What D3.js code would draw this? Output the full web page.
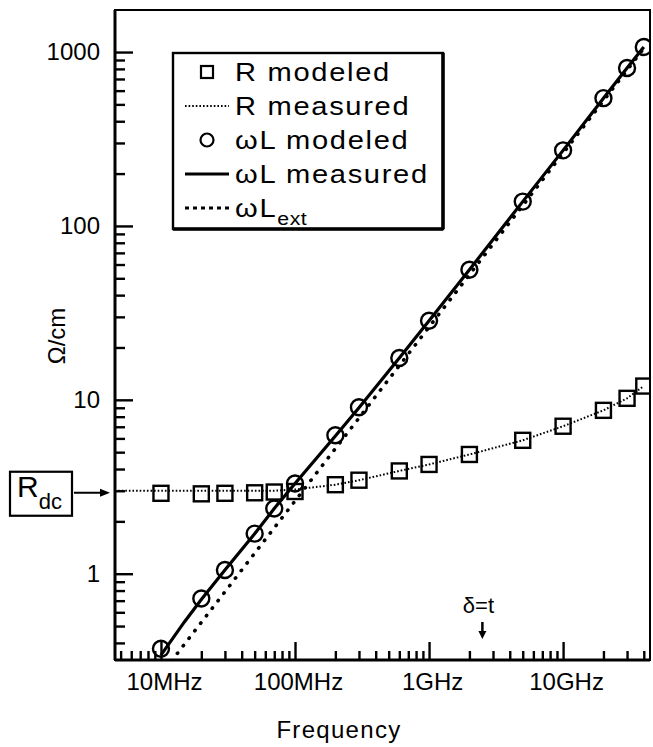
<!DOCTYPE html>
<html>
<head>
<meta charset="utf-8">
<script src="https://cdn.jsdelivr.net/npm/d3@7"></script>
<style>
  body { margin: 0; background: #fff; }
  svg { display: block; font-family: "Liberation Sans", Arial, sans-serif; }
</style>
</head>
<body>
<div id="chart"></div>
<script>
// frequencies of the modeled points (Hz)
const freqModeled = [1e7, 2e7, 3e7, 5e7, 7e7, 1e8, 2e8, 3e8, 6e8, 1e9, 2e9, 5e9, 1e10, 2e10, 3e10, 4e10];
const rModeled = [2.9, 2.88, 2.9, 2.92, 2.95, 2.97, 3.25, 3.45, 3.9, 4.25, 4.85, 5.85, 7.05, 8.7, 10.2, 12.0];
const wlModeled = [0.37, 0.72, 1.05, 1.7, 2.37, 3.3, 6.26, 9.07, 17.4, 28.5, 56, 138, 272, 543, 809, 1070];

// measured curves
const freqRMeas = [4.5e6, 1e7, 3e7, 7e7, 1e8, 2e8, 3e8, 6e8, 1e9, 2e9, 5e9, 1e10, 2e10, 3e10, 4e10];
const rMeas = [3.0, 3.0, 3.0, 3.0, 3.05, 3.25, 3.45, 3.9, 4.25, 4.85, 5.85, 7.05, 8.7, 10.2, 12.0];
const freqWLMeas = [1e7, 1.5e7, 2e7, 3e7, 5e7, 7e7, 1e8, 2e8, 3e8, 6e8, 1e9, 2e9, 5e9, 1e10, 2e10, 3e10, 4e10];
const wlMeas = [0.34, 0.53, 0.71, 1.05, 1.7, 2.37, 3.3, 6.2, 9.0, 17.4, 28.5, 56, 138, 272, 543, 809, 1070];
const freqExt = [1.2e7, 1e8, 1e9, 1e10, 4e10];
const wlExt = [0.315, 2.62, 26.2, 262, 1050];

const rdc = 3.0;
const fSkin = 2.5e9; // delta = t

const xTickVals = [1e7, 1e8, 1e9, 1e10];
const xTickLabels = ['10MHz', '100MHz', '1GHz', '10GHz'];
const yTickVals = [1, 10, 100, 1000];
const yTickLabels = ['1', '10', '100', '1000'];

const legendItems = [
  { label: 'R modeled', sub: '', type: 'square' },
  { label: 'R measured', sub: '', type: 'dot' },
  { label: '\u03c9L modeled', sub: '', type: 'circle' },
  { label: '\u03c9L measured', sub: '', type: 'solid' },
  { label: '\u03c9L', sub: 'ext', type: 'dash' },
];

const width = 653, height = 747;
const margin = { top: 10, right: 3, bottom: 87, left: 115 };
const plotW = width - margin.left - margin.right;
const plotH = height - margin.top - margin.bottom;

const x = d3.scaleLog().domain([4.54e6, 4.45e10]).range([0, plotW]);
const y = d3.scaleLog().domain([0.319, 1745]).range([plotH, 0]);

const svg = d3.select('#chart').append('svg')
  .attr('width', width).attr('height', height);

const g = svg.append('g')
  .attr('transform', `translate(${margin.left},${margin.top})`);

g.append('clipPath').attr('id', 'clip')
  .append('rect').attr('width', plotW).attr('height', plotH);

// minor ticks (inward)
const xMinor = g.append('g').attr('transform', `translate(0,${plotH})`)
  .call(d3.axisBottom(x).tickValues(x.ticks().filter(v => !xTickVals.includes(v)))
    .tickSize(-9).tickFormat(''));
const yMinor = g.append('g')
  .call(d3.axisLeft(y).tickValues(y.ticks().filter(v => !yTickVals.includes(v)))
    .tickSize(-10).tickFormat(''));

// major ticks with labels
const xMajor = g.append('g').attr('transform', `translate(0,${plotH})`)
  .call(d3.axisBottom(x).tickValues(xTickVals).tickSize(-18).tickPadding(13)
    .tickFormat((d, i) => xTickLabels[i]));
const yMajor = g.append('g')
  .call(d3.axisLeft(y).tickValues(yTickVals).tickSize(-18).tickPadding(15)
    .tickFormat((d, i) => yTickLabels[i]));

[xMinor, yMinor, xMajor, yMajor].forEach(a => {
  a.select('.domain').remove();
  a.selectAll('line').attr('stroke', '#000').attr('stroke-width', 2.4);
  a.selectAll('text').attr('font-size', 24).attr('fill', '#000')
    .attr('font-family', '"Liberation Sans", Arial, sans-serif');
});
xMajor.selectAll('text').attr('dx', 3);

// frame
g.append('rect').attr('width', plotW).attr('height', plotH)
  .attr('fill', 'none').attr('stroke', '#000').attr('stroke-width', 2);
g.append('line').attr('x1', 0).attr('x2', 0).attr('y1', 0).attr('y2', plotH)
  .attr('stroke', '#000').attr('stroke-width', 3);
g.append('line').attr('x1', 0).attr('x2', plotW).attr('y1', plotH).attr('y2', plotH)
  .attr('stroke', '#000').attr('stroke-width', 3);

const line = d3.line().x(d => x(d[0])).y(d => y(d[1]));
const plot = g.append('g').attr('clip-path', 'url(#clip)');

// omega L ext (bold dots)
plot.append('path').datum(d3.zip(freqExt, wlExt))
  .attr('d', line).attr('fill', 'none').attr('stroke', '#000')
  .attr('stroke-width', 3.6).attr('stroke-linecap', 'round')
  .attr('stroke-dasharray', '0.5,9');

// R measured (fine dots)
plot.append('path').datum(d3.zip(freqRMeas, rMeas))
  .attr('d', line).attr('fill', 'none').attr('stroke', '#000')
  .attr('stroke-width', 2).attr('stroke-dasharray', '1.6,2');

// omega L measured (solid)
plot.append('path').datum(d3.zip(freqWLMeas, wlMeas))
  .attr('d', line).attr('fill', 'none').attr('stroke', '#000')
  .attr('stroke-width', 3.2);

// R modeled squares
const sq = 15;
plot.selectAll('.sq').data(d3.zip(freqModeled, rModeled)).enter()
  .append('rect').attr('class', 'sq')
  .attr('x', d => x(d[0]) - sq / 2).attr('y', d => y(d[1]) - sq / 2)
  .attr('width', sq).attr('height', sq)
  .attr('fill', 'none').attr('stroke', '#000').attr('stroke-width', 2.4);

// omega L modeled circles
plot.selectAll('.circ').data(d3.zip(freqModeled, wlModeled)).enter()
  .append('circle').attr('class', 'circ')
  .attr('cx', d => x(d[0])).attr('cy', d => y(d[1])).attr('r', 8)
  .attr('fill', 'none').attr('stroke', '#000').attr('stroke-width', 2.4);

// legend
const lg = g.append('g').attr('transform', 'translate(58,43)');
lg.append('rect').attr('width', 270).attr('height', 176)
  .attr('fill', '#fff').attr('stroke', '#000').attr('stroke-width', 2.4);
lg.append('line').attr('x1', 270).attr('x2', 270).attr('y1', 0).attr('y2', 176)
  .attr('stroke', '#000').attr('stroke-width', 3.5);
lg.append('line').attr('x1', 0).attr('x2', 270).attr('y1', 176).attr('y2', 176)
  .attr('stroke', '#000').attr('stroke-width', 3.5);

const rowY = d3.scaleLinear().domain([0, 4]).range([19, 155]);
legendItems.forEach((it, i) => {
  const cy = rowY(i);
  const row = lg.append('g');
  if (it.type === 'square') {
    row.append('rect').attr('x', 34 - 6).attr('y', cy - 6).attr('width', 12).attr('height', 12)
      .attr('fill', 'none').attr('stroke', '#000').attr('stroke-width', 2.2);
  } else if (it.type === 'circle') {
    row.append('circle').attr('cx', 34).attr('cy', cy).attr('r', 6.5)
      .attr('fill', 'none').attr('stroke', '#000').attr('stroke-width', 2.2);
  } else {
    row.append('line').attr('x1', 12).attr('x2', 56).attr('y1', cy).attr('y2', cy)
      .attr('stroke', '#000')
      .attr('stroke-width', it.type === 'dot' ? 2 : 2.8)
      .attr('stroke-dasharray', it.type === 'dot' ? '1.6,2' : it.type === 'dash' ? '4,4' : null);
  }
  const t = row.append('text')
    .attr('transform', `translate(62,${cy + 9}) scale(1.12,1)`)
    .attr('font-size', 26).attr('letter-spacing', 1.5).text(it.label);
  if (it.sub) {
    t.append('tspan').attr('font-size', 19).attr('letter-spacing', 0.5)
      .attr('dy', 8).text(it.sub);
  }
});

// axis titles
svg.append('text').attr('x', margin.left + x(3e8) - 20).attr('y', 738)
  .attr('text-anchor', 'middle').attr('font-size', 24).attr('letter-spacing', 1.3)
  .text('Frequency');
svg.append('text')
  .attr('transform', `translate(65,${336}) rotate(-90)`)
  .attr('text-anchor', 'middle').attr('font-size', 24)
  .text('\u03a9/cm');

// R_dc marker
const ry = margin.top + y(rdc);
svg.append('rect').attr('x', 10).attr('y', ry - 19).attr('width', 62).attr('height', 44)
  .attr('fill', 'none').attr('stroke', '#000').attr('stroke-width', 2.2);
const rt = svg.append('text').attr('x', 17).attr('y', ry + 6).attr('font-size', 30).text('R');
rt.append('tspan').attr('font-size', 22).attr('dy', 12).text('dc');
svg.append('line').attr('x1', 74).attr('x2', 102).attr('y1', ry + 2).attr('y2', ry + 2)
  .attr('stroke', '#000').attr('stroke-width', 2);
svg.append('path')
  .attr('d', `M${margin.left - 5},${ry + 2} l-10,-4 l0,8 z`).attr('fill', '#000');

// delta = t marker
const sx = margin.left + x(fSkin);
svg.append('text').attr('x', sx - 4).attr('y', 613).attr('text-anchor', 'middle')
  .attr('font-size', 22).text('\u03b4=t');
svg.append('line').attr('x1', sx).attr('x2', sx).attr('y1', 622).attr('y2', 632)
  .attr('stroke', '#000').attr('stroke-width', 2.5);
svg.append('path').attr('d', `M${sx - 4},631 l8,0 l-4,8 z`).attr('fill', '#000');
</script>
</body>
</html>
